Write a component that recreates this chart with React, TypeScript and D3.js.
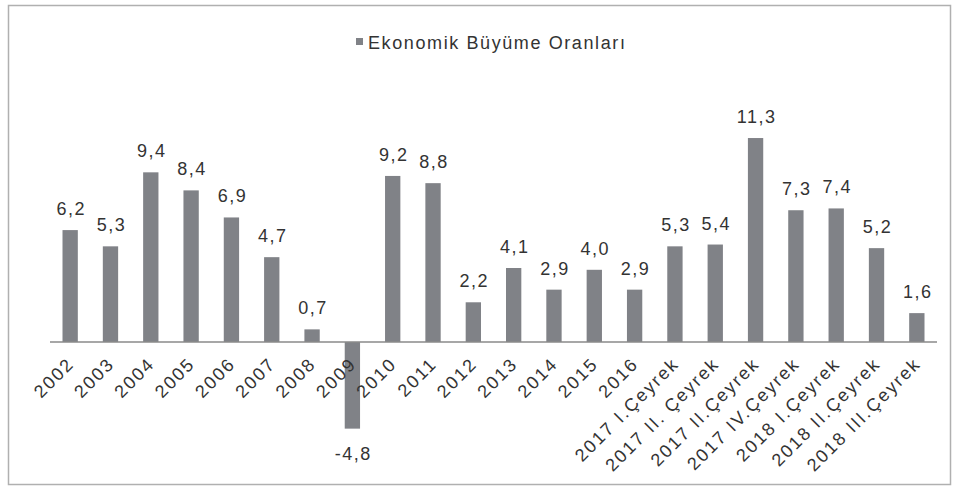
import React from "react";
import * as d3 from "d3";

const categories: string[] = [
  "2002", "2003", "2004", "2005", "2006", "2007", "2008", "2009", "2010", "2011",
  "2012", "2013", "2014", "2015", "2016",
  "2017 I.Çeyrek", "2017 II. Çeyrek", "2017 II.Çeyrek", "2017 IV.Çeyrek",
  "2018 I.Çeyrek", "2018 II.Çeyrek", "2018 III.Çeyrek",
];
const values: number[] = [
  6.2, 5.3, 9.4, 8.4, 6.9, 4.7, 0.7, -4.8, 9.2, 8.8,
  2.2, 4.1, 2.9, 4.0, 2.9,
  5.3, 5.4, 11.3, 7.3, 7.4, 5.2, 1.6,
];
const seriesName = "Ekonomik Büyüme Oranları";

const W = 956;
const H = 488;
const BAR = "#808287";
const TXT = "#333333";
const FONT = "'Liberation Sans', Arial, sans-serif";

export default function App() {
  const x = d3
    .scaleBand<string>()
    .domain(categories)
    .range([50, 937])
    .paddingInner(0.62)
    .paddingOuter(0.31);
  const y = d3.scaleLinear().domain([-6, 12]).range([342 + 6 * 18.05, 342 - 12 * 18.05]);
  const fmt = (v: number) => d3.format(".1f")(v).replace(".", ",").replace("\u2212", "-");
  const y0 = y(0);

  return (
    <svg
      width={W}
      height={H}
      style={{ position: "absolute", left: 0, top: 0, background: "#fff" }}
      fontFamily={FONT}
    >
      <rect x={0} y={0} width={W} height={H} fill="#fff" />
      <rect x={8.5} y={5.5} width={942} height={479} fill="none" stroke="#b0b0b0" strokeWidth={1.5} />

      {/* legend / title */}
      <rect x={356} y={38} width={7} height={7} fill={BAR} />
      <text x={368} y={49} fontSize={18} fill={TXT} letterSpacing={1.6}>
        {seriesName}
      </text>

      {/* bars */}
      {categories.map((c, i) => {
        const v = values[i];
        const top = Math.min(y(v), y0);
        const h = Math.abs(y(v) - y0);
        return <rect key={c} x={x(c)} y={top} width={x.bandwidth()} height={h} fill={BAR} />;
      })}

      {/* axis line */}
      <line x1={50} x2={937} y1={y0} y2={y0} stroke="#8a8a8a" strokeWidth={1.5} />

      {/* value labels */}
      {categories.map((c, i) => {
        const v = values[i];
        const cx = (x(c) as number) + x.bandwidth() / 2;
        const ty = v >= 0 ? y(v) - 15 : y(v) + 31;
        return (
          <text key={c} x={cx + 1} y={ty} fontSize={18} fill={TXT} textAnchor="middle" letterSpacing={1.5}>
            {fmt(v)}
          </text>
        );
      })}

      {/* category labels */}
      {categories.map((c) => {
        const cx = (x(c) as number) + x.bandwidth() / 2;
        const ax = cx + 5;
        const ay = y0 + 23;
        return (
          <text
            key={c}
            x={ax}
            y={ay}
            fontSize={18}
            fill={TXT}
            textAnchor="end"
            letterSpacing={2}
            transform={`rotate(-45 ${ax} ${ay})`}
          >
            {c}
          </text>
        );
      })}
    </svg>
  );
}
